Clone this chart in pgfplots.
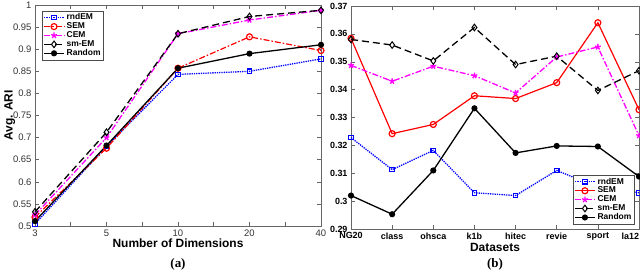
\documentclass[border=0pt]{standalone}
\usepackage{pgfplots}
\pgfplotsset{compat=1.18}
\usepackage{fontspec}
\setmainfont{Liberation Sans}
\newfontfamily\serifbf{Liberation Serif}
\definecolor{mblue}{RGB}{0,0,255}
\definecolor{mred}{RGB}{255,0,0}
\definecolor{mmag}{RGB}{255,0,255}
\begin{document}
\begin{tikzpicture}
\useasboundingbox (0bp,0bp) rectangle (640bp,272bp);
\pgfplotsset{
  every axis/.append style={
    scale only axis,
    /pgf/number format/assume math mode=true,
    /pgf/number format/fixed,
    tick align=inside,
    major tick length=4bp,
    axis line style={draw=black!60, line width=0.6bp},
    tick style={draw=black!60, line width=0.5bp},
    every tick label/.append style={font=\fontsize{9.5}{10}\selectfont, text=black!80},
    label style={font=\bfseries\fontsize{12}{13}\selectfont},
    legend style={font=\bfseries\fontsize{8.5}{9}\selectfont, draw=black!70, line width=0.5bp,
      inner sep=1pt, row sep=-2.5pt, legend cell align=left},
    legend image code/.code={
      \draw[mark repeat=2,mark phase=2]
        plot coordinates {(0bp,0bp) (10bp,0bp) (20bp,0bp)};},
    clip=false,
  },
  rnd/.style={color=mblue, densely dotted, line width=1.3bp, mark=square, mark size=2.3bp, mark options={solid, line width=1.1bp}},
  sem/.style={color=mred, line width=1.2bp, mark=o, mark size=3bp, mark options={solid}},
  cem/.style={color=mmag, dash pattern=on 6bp off 2bp on 1.5bp off 2bp, line width=1.3bp, mark=star, mark size=3bp, mark options={solid, line width=1.3bp}},
  sme/.style={color=black, dash pattern=on 7bp off 4bp, line width=1.3bp, mark=diamond, mark size=3.3bp, mark options={solid, line width=1bp}},
  rand/.style={color=black, line width=1.3bp, mark=*, mark size=2.4bp, mark options={solid}},
}
% ---------- panel (a)
\begin{axis}[
  at={(35bp,46bp)}, anchor=south west,
  width=286bp, height=221bp,
  xmin=0, xmax=4, ymin=0.5, ymax=1,
  xtick={0,0.5,...,4},
  xticklabels={3,,5,,10,,20,,40},
  ytick={0.5,0.55,...,1.01},
  xlabel={Number of Dimensions},
  xlabel style={yshift=4bp},
  ylabel={Avg. ARI},
  ylabel style={yshift=-9bp},
  legend style={at={(0.025,0.975)}, anchor=north west},
]
\addplot[rnd] coordinates {(0,0.505) (1,0.680) (2,0.843) (3,0.850) (4,0.878)};
\addplot[sem, dash pattern=on 6bp off 2bp on 1.5bp off 2bp] coordinates {(0,0.520) (1,0.676) (2,0.857) (3,0.928) (4,0.897)};
\addplot[cem] coordinates {(0,0.525) (1,0.700) (2,0.935) (3,0.966) (4,0.988)};
\addplot[sme] coordinates {(0,0.532) (1,0.712) (2,0.935) (3,0.974) (4,0.988)};
\addplot[rand] coordinates {(0,0.511) (1,0.682) (2,0.857) (3,0.890) (4,0.910)};
\legend{rndEM,SEM,CEM,sm-EM,Random}
\end{axis}
% ---------- panel (b)
\begin{axis}[
  at={(351bp,43bp)}, anchor=south west,
  width=288bp, height=223bp,
  xmin=0, xmax=7, ymin=0.29, ymax=0.37,
  xtick={0,...,7},
  xticklabels={NG20,class,ohsca,k1b,hitec,revie,sport,{\makebox[0pt][r]{la12}}},
  ytick={0.29,0.30,...,0.375},
  every tick label/.append style={font=\bfseries\fontsize{9}{10}\selectfont, text=black},
  xlabel={Datasets},
  xlabel style={yshift=4bp},
  legend style={at={(0.985,0.02)}, anchor=south east},
]
\addplot[rnd] coordinates {(0,0.3228) (1,0.3113) (2,0.3182) (3,0.3030) (4,0.3020) (5,0.3110) (6,0.3050) (7,0.3030)};
\addplot[sem] coordinates {(0,0.3584) (1,0.3242) (2,0.3275) (3,0.3378) (4,0.3368) (5,0.3425) (6,0.3640) (7,0.3328)};
\addplot[cem] coordinates {(0,0.3487) (1,0.3430) (2,0.3484) (3,0.3450) (4,0.3388) (5,0.3517) (6,0.3553) (7,0.3235)};
\addplot[sme] coordinates {(0,0.3580) (1,0.3560) (2,0.3503) (3,0.3623) (4,0.3490) (5,0.3520) (6,0.3397) (7,0.3468)};
\addplot[rand] coordinates {(0,0.3020) (1,0.2953) (2,0.3110) (3,0.3333) (4,0.3173) (5,0.3198) (6,0.3196) (7,0.3088)};
\legend{rndEM,SEM,CEM,sm-EM,Random}
\end{axis}
\node[font=\serifbf\bfseries\fontsize{13}{14}\selectfont] at (178bp,8bp) {(a)};
\node[font=\serifbf\bfseries\fontsize{13}{14}\selectfont] at (495bp,8bp) {(b)};
\end{tikzpicture}
\end{document}
